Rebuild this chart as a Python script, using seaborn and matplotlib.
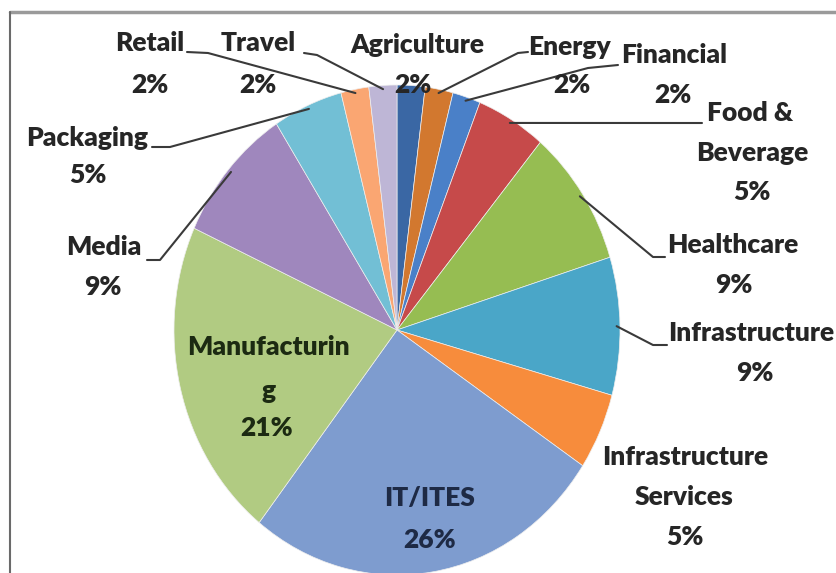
import numpy as np
import matplotlib
matplotlib.use("Agg")
import matplotlib.pyplot as plt
from matplotlib.lines import Line2D
import seaborn as sns

# Share of companies by industry sector (percent)
sectors = ["Agriculture", "Energy", "Financial", "Food & Beverage", "Healthcare",
           "Infrastructure", "Infrastructure Services", "IT/ITES", "Manufacturing",
           "Media", "Packaging", "Retail", "Travel"]
shares = [2, 2, 2, 5, 9, 9, 5, 26, 21, 9, 5, 2, 2]
slice_colors = ["#3A67A4", "#D2782F", "#4A80C8", "#C64A4A", "#96BD52", "#4AA6C8",
                "#F78C3C", "#7E9CCF", "#B1CB82", "#9F87BD", "#72BFD5", "#FAA672",
                "#BEB6D6"]
# Label text lines (the percentage is appended from `shares`)
label_lines = {
    "Agriculture": ["Agriculture"],
    "Energy": ["Energy"],
    "Financial": ["Financial"],
    "Food & Beverage": ["Food &", "Beverage"],
    "Healthcare": ["Healthcare"],
    "Infrastructure": ["Infrastructure"],
    "Infrastructure Services": ["Infrastructure", "Services"],
    "IT/ITES": ["IT/ITES"],
    "Manufacturing": ["Manufacturin", "g"],
    "Media": ["Media"],
    "Packaging": ["Packaging"],
    "Retail": ["Retail"],
    "Travel": ["Travel"],
}
label_colors = {"IT/ITES": "#1E2A45", "Manufacturing": "#1C2A12"}

# ---- layout (pixel positions on an 837 x 573 canvas, y measured from top) ----
W, H = 837, 573
PIE_CX, PIE_CY = 397, 330      # pie centre
PIE_RX, PIE_RY = 223, 245      # horizontal / vertical radius (slightly tall ellipse)

text_pos = {
    "Retail": [(150, 43), (150, 85)],
    "Travel": [(258, 43), (258, 85)],
    "Agriculture": [(417, 45), (413, 85)],
    "Energy": [(570, 47), (572, 85)],
    "Financial": [(674, 55), (673, 95)],
    "Food & Beverage": [(750, 113), (752, 153), (752, 192)],
    "Healthcare": [(733, 245), (734, 285)],
    "Infrastructure": [(751, 333), (755, 373)],
    "Infrastructure Services": [(685, 457), (684, 497), (685, 537)],
    "IT/ITES": [(430, 498), (430, 540)],
    "Manufacturing": [(268, 347), (269, 391), (267, 428)],
    "Media": [(104, 247), (103, 287)],
    "Packaging": [(87, 138), (88, 175)],
}
# leader lines: start next to the text, then an elbow, then to the slice edge
leaders = {
    "Retail": [(187, 52), (208, 53)],
    "Travel": [(304, 53), (317, 55)],
    "Energy": [(528, 52), (518, 53)],
    "Financial": [(618, 65), (588, 68)],
    "Food & Beverage": [(702, 123), (690, 123)],
    "Healthcare": [(665, 257), (653, 257)],
    "Infrastructure": [(667, 345), (653, 345)],
    "Media": [(147, 260), (160, 260)],
    "Packaging": [(152, 147), (170, 147)],
}

sns.set_theme(style="white")
plt.rcParams["font.family"] = ["Lato", "DejaVu Sans"]

fig = plt.figure(figsize=(W / 100, H / 100), dpi=100)
ax = fig.add_axes([0, 0, 1, 1])

palette = sns.color_palette(slice_colors)
wedges, _ = ax.pie(shares, colors=palette, startangle=90, counterclock=False,
                   radius=1, center=(0, 0),
                   wedgeprops=dict(edgecolor="#eeeeee", linewidth=0.5))

# map the unit pie onto the elliptical pixel footprint
ax.set_aspect("auto")
ax.set_xlim(-PIE_CX / PIE_RX, (W - PIE_CX) / PIE_RX)
ax.set_ylim(-(H - PIE_CY) / PIE_RY, PIE_CY / PIE_RY)
ax.axis("off")


def px(x, y):
    """Pixel position (from top-left) -> data coordinates."""
    return (x - PIE_CX) / PIE_RX, (PIE_CY - y) / PIE_RY


total = float(sum(shares))
cum = np.cumsum([0] + shares[:-1])
for name, v, c0 in zip(sectors, shares, cum):
    lines = label_lines[name] + [f"{v}%"]
    color = label_colors.get(name, "#262626")
    for txt, (x, y) in zip(lines, text_pos[name]):
        dx, dy = px(x, y)
        ax.text(dx, dy, txt, ha="center", va="center", fontsize=19,
                fontweight="heavy", color=color)
    if name in leaders:
        mid = np.deg2rad(90 - 360 * (c0 + v / 2) / total)
        ex, ey = 0.985 * np.cos(mid), 0.985 * np.sin(mid)
        pts = [px(*p) for p in leaders[name]] + [(ex, ey)]
        xs, ys = zip(*pts)
        ax.plot(xs, ys, color="#3a3a3a", linewidth=1.5, solid_capstyle="round")

# chart frame (top and left edges visible)
fig.add_artist(Line2D([10 / W, 1], [1 - 12 / H, 1 - 12 / H], transform=fig.transFigure,
                      color="#9a9a9a", linewidth=2.5))
fig.add_artist(Line2D([10 / W, 10 / W], [0, 1 - 12 / H], transform=fig.transFigure,
                      color="#6a6a6a", linewidth=1.5))

fig.savefig("out.png", dpi=100, facecolor="white")
